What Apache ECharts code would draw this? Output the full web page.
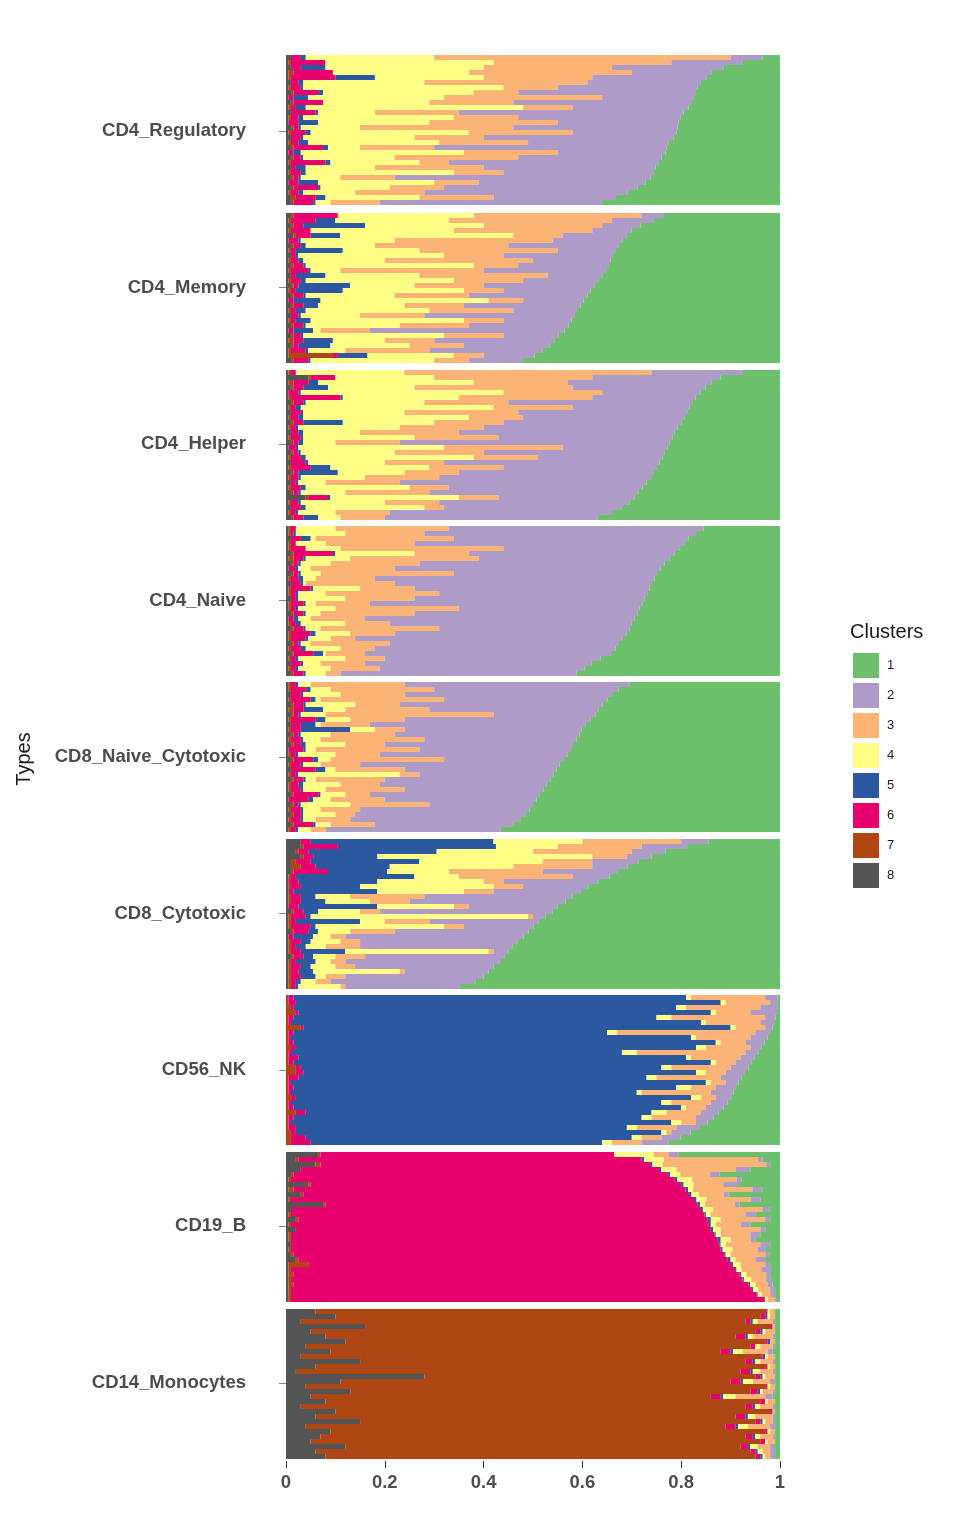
<!DOCTYPE html>
<html>
<head>
<meta charset="utf-8">
<title>Clusters per cell type</title>
<script src="https://cdn.jsdelivr.net/npm/echarts@6.0.0/dist/echarts.min.js"></script>
<style>
html, body { margin: 0; padding: 0; background: #fff; }
#chart { width: 960px; height: 1536px; }
</style>
</head>
<body>
<div id="chart"></div>
<script>
// cell types, top to bottom
var types = ['CD4_Regulatory', 'CD4_Memory', 'CD4_Helper', 'CD4_Naive', 'CD8_Naive_Cytotoxic',
  'CD8_Cytotoxic', 'CD56_NK', 'CD19_B', 'CD14_Monocytes'];
var clusters = ['1', '2', '3', '4', '5', '6', '7', '8'];
var clusterColors = ['#6dc06b', '#af9bc8', '#fbb476', '#ffff85', '#2c58a0', '#e8006e', '#af4714', '#555555'];
var xTicks = [0, 0.2, 0.4, 0.6, 0.8, 1];

// each row = one cell, shares of clusters 1..8 (top row first)
var cd4Regulatory = [
  [.035,.065,.60,.26,.01,.02,0,.01],[.075,.145,.36,.34,0,.07,.005,.005],[.115,.225,.26,.32,.05,.02,0,.01],
  [.138,.162,.33,.275,0,.08,.01,.005],[.148,.232,.22,.22,.08,.09,.005,.005],[.16,.23,.33,.245,.01,.015,0,.01],
  [.167,.283,.11,.405,.005,.02,.005,.005],[.17,.36,.09,.305,.01,.05,.005,.01],[.174,.186,.32,.275,.03,.01,0,.005],
  [.18,.36,.17,.215,0,.06,.005,.01],[.185,.235,.10,.44,.02,.01,.005,.005],[.195,.455,.17,.115,.005,.05,0,.01],
  [.202,.328,.13,.305,.01,.015,.005,.005],[.205,.245,.26,.225,.04,.02,0,.005],[.207,.333,.31,.12,.005,.01,.005,.01],
  [.21,.21,.21,.32,.01,.03,.005,.005],[.215,.385,.14,.225,.005,.02,0,.01],[.225,.285,.18,.265,.02,.015,.005,.005],
  [.23,.47,.15,.065,.01,.06,.005,.01],[.232,.218,.19,.33,.015,.01,0,.005],[.24,.29,.25,.185,.005,.015,.005,.01],
  [.245,.425,.06,.18,.01,.07,.005,.005],[.252,.348,.22,.14,.02,.01,0,.01],[.255,.305,.10,.30,.01,.02,.005,.005],
  [.262,.518,.11,.08,.005,.01,.005,.01],[.272,.338,.09,.235,.04,.02,0,.005],[.288,.392,.11,.14,.005,.05,.005,.01],
  [.308,.412,.14,.105,.01,.015,.005,.005],[.332,.248,.15,.19,.02,.04,.01,.01],[.36,.45,.10,.03,.005,.04,.005,.01]
];
var cd4Memory = [
  [.235,.045,.34,.275,0,.09,.005,.01],[.255,.085,.33,.23,.04,.05,.005,.005],[.282,.078,.24,.24,.125,.02,.005,.01],
  [.30,.08,.28,.29,0,.04,.005,.005],[.31,.13,.10,.35,.06,.03,.005,.015],[.319,.141,.32,.19,.005,.02,0,.005],
  [.326,.224,.27,.14,.01,.015,.005,.01],[.332,.118,.28,.155,.095,.01,.005,.005],[.338,.222,.12,.295,.005,.01,0,.01],
  [.343,.157,.30,.165,.01,.015,.005,.005],[.346,.184,.09,.34,.005,.02,.005,.01],[.352,.248,.29,.06,.005,.035,.005,.005],
  [.36,.11,.26,.19,.06,.01,0,.01],[.368,.152,.14,.30,.01,.02,.005,.005],[.376,.224,.14,.13,.105,.01,.005,.01],
  [.384,.176,.08,.245,.095,.01,.005,.005],[.39,.24,.15,.18,.005,.02,.005,.01],[.398,.122,.07,.34,.055,.01,0,.005],
  [.404,.236,.12,.175,.03,.02,.005,.01],[.411,.129,.17,.25,.02,.01,.005,.005],[.415,.305,.13,.12,.005,.015,0,.01],
  [.422,.138,.08,.31,.03,.01,.005,.005],[.428,.202,.14,.19,.005,.02,.005,.01],[.436,.394,.10,.015,.04,.01,0,.005],
  [.448,.112,.12,.285,.005,.015,.005,.01],[.457,.243,.10,.105,.06,.02,.01,.005],[.467,.173,.11,.16,.065,.01,.005,.01],
  [.48,.23,.17,.075,.005,.03,.005,.005],[.497,.103,.06,.175,.06,.01,.09,.005],[.522,.108,.07,.25,.005,.03,.005,.01]
];
var cd4Helper = [
  [.075,.185,.50,.22,0,.01,.005,.005],[.12,.26,.32,.20,0,.05,.005,.045],[.138,.292,.19,.315,.02,.03,.01,.005],
  [.151,.269,.32,.175,.05,.02,.005,.01],[.161,.199,.20,.41,.005,.02,0,.005],[.171,.209,.27,.235,.005,.10,.005,.005],
  [.178,.372,.17,.24,.005,.02,.005,.01],[.183,.237,.16,.39,.01,.01,.005,.005],[.188,.342,.23,.205,.005,.02,0,.01],
  [.194,.326,.11,.335,.01,.015,.005,.005],[.20,.36,.14,.185,.08,.02,.005,.01],[.207,.393,.17,.205,.005,.01,.005,.005],
  [.214,.436,.20,.115,.01,.015,0,.01],[.218,.352,.17,.225,.005,.02,.005,.005],[.223,.547,.13,.065,.01,.01,.005,.01],
  [.228,.212,.24,.295,.005,.015,0,.005],[.233,.367,.18,.19,.005,.01,.005,.01],[.238,.252,.13,.34,.01,.02,.005,.005],
  [.244,.436,.12,.155,.005,.03,0,.01],[.249,.311,.15,.20,.04,.04,.005,.005],[.255,.395,.11,.135,.08,.01,.005,.01],
  [.261,.429,.15,.13,.005,.015,.005,.005],[.27,.50,.15,.055,.005,.01,0,.01],[.278,.392,.08,.21,.01,.02,.005,.005],
  [.287,.423,.17,.09,.005,.01,.005,.01],[.295,.275,.08,.26,.005,.04,.005,.04],[.305,.385,.11,.17,.005,.015,.005,.005],
  [.32,.36,.04,.24,.01,.02,0,.01],[.34,.45,.11,.075,.005,.01,.005,.005],[.37,.43,.09,.045,.03,.02,.005,.01]
];
var cd4Naive = [
  [.155,.515,.23,.08,0,.01,.005,.005],[.17,.55,.16,.10,.005,.005,.005,.005],[.185,.475,.28,.01,.02,.02,0,.01],
  [.194,.546,.18,.06,0,.01,.005,.005],[.204,.356,.33,.07,0,.03,.005,.005],[.214,.416,.11,.16,.005,.08,.005,.01],
  [.224,.386,.26,.09,.005,.02,.01,.005],[.234,.496,.18,.06,.005,.01,.005,.01],[.242,.538,.17,.025,.005,.015,0,.005],
  [.249,.411,.27,.04,.005,.01,.005,.01],[.254,.566,.12,.025,.01,.015,.005,.005],[.259,.521,.18,.005,.005,.02,0,.01],
  [.264,.476,.11,.095,.005,.04,.005,.005],[.269,.421,.23,.055,.005,.01,.005,.005],[.274,.466,.14,.095,.005,.01,0,.01],
  [.279,.551,.11,.02,.005,.025,.005,.005],[.284,.366,.25,.075,.005,.01,.005,.005],[.289,.451,.19,.03,.005,.02,.005,.01],
  [.294,.546,.11,.025,.01,.01,0,.005],[.30,.49,.09,.09,.01,.01,.005,.005],[.304,.386,.24,.03,.005,.02,.005,.01],
  [.31,.47,.09,.07,.01,.04,.005,.005],[.318,.542,.05,.045,.005,.03,.005,.005],[.326,.464,.16,.02,.005,.01,.005,.01],
  [.333,.487,.07,.07,.01,.02,.005,.005],[.342,.498,.08,.005,.02,.04,.005,.01],[.363,.437,.08,.095,.005,.01,.005,.005],
  [.381,.459,.09,.035,.005,.02,0,.01],[.396,.414,.10,.065,.005,.01,.005,.005],[.412,.478,.03,.04,.005,.02,.005,.01]
];
var cd8NaiveCytotoxic = [
  [.305,.455,.19,.025,.005,.01,.005,.005],[.327,.373,.21,.04,.01,.03,.005,.005],[.34,.42,.13,.075,.005,.02,0,.01],
  [.349,.331,.25,.01,.01,.04,.005,.005],[.359,.411,.09,.10,.005,.02,.005,.01],[.368,.342,.17,.045,.04,.02,.01,.005],
  [.374,.206,.34,.05,.005,.01,.005,.01],[.383,.377,.11,.05,.02,.05,.005,.005],[.393,.437,.10,.01,.03,.02,0,.01],
  [.402,.358,.06,.05,.10,.02,.005,.005],[.406,.374,.13,.06,.005,.01,.005,.01],[.412,.308,.21,.035,.005,.02,.005,.005],
  [.419,.381,.08,.08,.01,.015,.005,.01],[.423,.307,.21,.02,.005,.03,0,.005],[.43,.38,.09,.075,.005,.01,.005,.005],
  [.439,.241,.23,.025,.01,.04,.005,.01],[.446,.404,.08,.035,.005,.02,.005,.005],[.452,.308,.14,.02,.02,.05,0,.01],
  [.459,.271,.04,.205,.005,.01,.005,.005],[.465,.335,.14,.02,.005,.02,.005,.01],[.472,.338,.08,.075,.01,.015,.005,.005],
  [.479,.281,.16,.045,.005,.02,.005,.005],[.486,.344,.05,.05,.005,.05,.005,.01],[.493,.307,.11,.035,.01,.04,0,.005],
  [.50,.21,.16,.10,.005,.01,.005,.01],[.507,.343,.08,.035,.005,.02,.005,.005],[.516,.344,.04,.065,.005,.015,.005,.01],
  [.526,.344,.07,.025,.005,.02,.005,.005],[.54,.28,.09,.03,.005,.04,.005,.01],[.565,.355,.03,.025,.005,.01,.005,.005]
];
var cd8Cytotoxic = [
  [.145,.055,.20,.18,.37,.02,0,.03],[.188,.092,.17,.125,.32,.07,.005,.03],[.232,.068,.20,.195,.26,.02,.005,.02],
  [.26,.05,.07,.435,.13,.02,.005,.03],[.287,.093,.10,.25,.22,.03,.01,.01],[.308,.072,.16,.25,.15,.03,.02,.01],
  [.328,.152,.19,.125,.12,.07,.005,.01],[.345,.075,.23,.09,.24,.01,.005,.005],[.368,.192,.04,.215,.16,.02,0,.005],
  [.388,.132,.06,.27,.12,.02,.005,.005],[.403,.177,.06,.175,.17,.01,0,.005],[.42,.30,.15,.07,.03,.02,.005,.005],
  [.434,.316,.08,.09,.05,.02,.005,.005],[.45,.18,.03,.155,.16,.02,0,.005],[.461,.349,.04,.085,.03,.02,.005,.01],
  [.475,.025,.01,.44,.01,.03,.005,.005],[.488,.222,.09,.05,.13,.01,.005,.005],[.499,.141,.04,.26,.01,.04,.005,.005],
  [.509,.271,.09,.065,.02,.03,.005,.01],[.519,.361,.03,.035,.04,.01,0,.005],[.532,.318,.04,.06,.02,.02,.005,.005],
  [.542,.308,.07,.04,.02,.01,.005,.005],[.55,.03,.01,.29,.09,.02,.005,.005],[.557,.283,.06,.045,.02,.02,.005,.01],
  [.567,.313,.03,.03,.04,.01,.005,.005],[.58,.28,.04,.05,.02,.02,.005,.005],[.59,.17,.01,.175,.03,.015,.005,.005],
  [.60,.28,.04,.02,.03,.02,.005,.005],[.617,.293,.03,.03,.01,.01,.005,.005],[.648,.232,.01,.085,.005,.01,.005,.005]
];
var cd56NK = [
  [.005,.025,.15,.01,.795,.01,.005,0],[.004,.016,.09,.01,.86,.015,.005,0],[.005,.035,.15,.02,.775,.005,.01,0],
  [.006,.054,.07,.01,.835,.005,.02,0],[.009,.021,.19,.03,.735,.01,.005,0],[.012,.028,.11,.01,.83,.005,.005,0],
  [.015,.015,.06,.01,.865,.005,.03,0],[.02,.03,.28,.02,.635,.01,.005,0],[.025,.035,.11,.01,.81,.005,.005,0],
  [.031,.039,.05,.01,.855,.01,.005,0],[.037,.023,.09,.02,.81,.01,.01,0],[.044,.026,.22,.03,.67,.005,.005,0],
  [.051,.029,.10,.01,.785,.02,.005,0],[.057,.033,.04,.01,.845,.01,.005,0],[.064,.036,.12,.02,.73,.01,.02,0],
  [.071,.039,.04,.02,.795,.015,.02,0],[.078,.042,.13,.02,.705,.02,.005,0],[.084,.026,.03,.01,.84,.005,.005,0],
  [.089,.041,.05,.03,.775,.01,.005,0],[.094,.046,.14,.01,.70,.005,.005,0],[.099,.031,.03,.02,.80,.01,.01,0],
  [.106,.034,.08,.02,.75,.005,.005,0],[.114,.036,.04,.01,.785,.01,.005,0],[.124,.036,.07,.03,.70,.02,.02,0],
  [.134,.036,.09,.02,.705,.01,.005,0],[.147,.023,.03,.02,.77,.005,.005,0],[.162,.048,.08,.02,.67,.015,.005,0],
  [.181,.039,.01,.01,.74,.01,.01,0],[.201,.039,.04,.02,.66,.03,.01,0],[.225,.055,.06,.02,.59,.04,.01,0]
];
var cd19B = [
  [.206,.02,.03,.08,0,.594,.005,.065],[.035,.01,.19,.04,.005,.695,.005,.02],[.02,.008,.21,.02,.005,.667,.01,.06],
  [.06,.03,.12,.03,.005,.725,0,.03],[.122,.02,.06,.02,.005,.758,.005,.01],[.078,.01,.09,.03,.005,.777,.005,.005],
  [.085,.03,.06,.02,.005,.75,.005,.045],[.036,.02,.12,.01,.005,.794,.01,.005],[.104,.01,.05,.015,.005,.781,.005,.03],
  [.039,.02,.09,.02,.005,.816,.005,.005],[.082,.01,.06,.01,.005,.753,.005,.075],[.02,.016,.10,.02,.004,.83,0,.01],
  [.05,.02,.07,.01,.003,.837,.005,.005],[.02,.01,.09,.02,.007,.828,.005,.02],[.06,.02,.05,.01,.004,.846,.005,.005],
  [.03,.01,.08,.015,.005,.84,0,.02],[.04,.02,.06,.01,.003,.857,.005,.005],[.05,.01,.04,.02,.007,.863,.005,.005],
  [.02,.02,.07,.01,.003,.867,0,.01],[.03,.016,.05,.02,.004,.87,.005,.005],[.02,.01,.07,.01,.003,.872,.005,.01],
  [.03,.02,.04,.01,.006,.869,.005,.02],[.02,.01,.05,.015,.004,.856,.04,.005],[.02,.018,.04,.01,.003,.899,.005,.005],
  [.02,.008,.04,.01,.004,.903,.01,.005],[.018,.01,.03,.015,.003,.914,.005,.005],[.015,.01,.025,.01,.004,.921,.01,.005],
  [.01,.01,.024,.01,.003,.933,.005,.005],[.01,.01,.017,.008,.002,.943,.005,.005],[.006,.004,.015,.005,.002,.958,.005,.005]
];
var cd14Monocytes = [
  [.01,0,.01,.005,0,.005,.91,.06],[.01,0,.01,.005,.005,.01,.86,.10],[.01,.005,.03,.01,.005,.01,.90,.03],
  [.01,0,.005,0,0,.005,.82,.16],[.01,0,.02,.005,.005,.01,.90,.05],[.01,.005,.04,.01,.005,.02,.83,.08],
  [.01,0,.01,0,.005,.005,.85,.12],[.01,.005,.025,.01,0,.01,.90,.04],[.015,.01,.05,.02,.005,.02,.79,.09],
  [.01,0,.015,.005,.005,.005,.93,.03],[.01,.005,.025,.01,.005,.015,.78,.15],[.01,0,.01,.005,0,.005,.91,.06],
  [.01,.005,.025,.015,.005,.02,.90,.02],[.01,0,.02,.005,.005,.01,.67,.28],[.01,.01,.035,.02,.005,.02,.79,.11],
  [.01,0,.01,.005,0,.005,.93,.04],[.01,.005,.02,.005,.005,.015,.81,.13],[.015,.015,.06,.025,.005,.02,.81,.05],
  [.01,0,.015,.005,0,.01,.88,.08],[.01,.005,.025,.01,.005,.015,.90,.03],[.01,0,.005,0,0,.005,.88,.10],
  [.01,.005,.035,.015,.005,.02,.85,.06],[.01,.005,.015,.005,.005,.01,.80,.15],[.01,.01,.045,.02,.005,.02,.85,.04],
  [.01,0,.01,.005,0,.005,.88,.09],[.01,.005,.025,.01,.005,.015,.86,.07],[.01,0,.015,.005,0,.01,.91,.05],
  [.01,.01,.025,.015,.005,.015,.80,.12],[.01,.01,.015,.01,.005,.01,.88,.06],[.01,.01,.01,.005,.005,.01,.87,.08]
];
var panels = [cd4Regulatory, cd4Memory, cd4Helper, cd4Naive, cd8NaiveCytotoxic,
  cd8Cytotoxic, cd56NK, cd19B, cd14Monocytes];

// layout (pixels); panel height = 5 px per row so rows sit on whole pixels
var plotLeft = 286, plotWidth = 494, plotTop = 53, plotBottom = 1461;
var panelTop = [55, 213, 370, 526, 682, 839, 995, 1152, 1309];
var rowPx = 5;
var font = '"Liberation Sans", Arial, Helvetica, sans-serif';

var chart = echarts.init(document.getElementById('chart'));
var grids = [], xAxes = [], yAxes = [], series = [];

panels.forEach(function (rows, k) {
  grids.push({ left: plotLeft, width: plotWidth, top: panelTop[k], height: rows.length * rowPx });
  xAxes.push({ gridIndex: k, type: 'value', min: 0, max: 1, show: false });
  yAxes.push({ gridIndex: k, type: 'category', inverse: true, show: false,
    data: rows.map(function (r, i) { return i; }) });
  // stacked left to right: cluster 8 first, cluster 1 last
  for (var c = clusters.length - 1; c >= 0; c--) {
    series.push({
      type: 'bar', name: clusters[c], xAxisIndex: k, yAxisIndex: k, stack: 'p' + k,
      barCategoryGap: '0%', silent: true, animation: false,
      itemStyle: { color: clusterColors[c], borderWidth: 0 },
      data: rows.map(function (r) { return r[c]; })
    });
  }
});

// shared axes for the type labels and the 0..1 scale
var g = panels.length;
grids.push({ left: plotLeft, width: plotWidth, top: plotTop, height: plotBottom - plotTop });
xAxes.push({
  gridIndex: g, type: 'value', min: 0, max: 1, interval: 0.2,
  axisLine: { show: false }, splitLine: { show: false },
  axisTick: { show: true, length: 7, lineStyle: { color: '#333', width: 1 } },
  axisLabel: { margin: 12, fontSize: 18.5, fontWeight: 'bold', color: '#4d4d4d', fontFamily: font,
    formatter: function (v) { return xTicks.indexOf(v) >= 0 ? String(v) : ''; } }
});
yAxes.push({
  gridIndex: g, type: 'category', inverse: true, data: types, offset: 26,
  axisLine: { show: false }, splitLine: { show: false },
  axisTick: { show: true, alignWithLabel: true, length: 7, lineStyle: { color: '#888', width: 1 } },
  axisLabel: { margin: 14, fontSize: 18.5, fontWeight: 'bold', color: '#4d4d4d', fontFamily: font }
});

chart.setOption({
  backgroundColor: '#fff',
  animation: false,
  textStyle: { fontFamily: font },
  grid: grids,
  xAxis: xAxes,
  yAxis: yAxes,
  legend: {
    data: clusters, orient: 'vertical', left: 848, top: 648,
    itemWidth: 26, itemHeight: 25, itemGap: 5, icon: 'rect', selectedMode: false,
    textStyle: { fontSize: 13, color: '#1a1a1a', fontFamily: font, padding: [0, 0, 0, 3] }
  },
  graphic: [
    { type: 'text', x: 850, y: 632, silent: true,
      style: { text: 'Clusters', fontSize: 20, fill: '#1a1a1a', fontFamily: font, align: 'left', verticalAlign: 'middle' } },
    { type: 'text', x: 24, y: 759, rotation: Math.PI / 2, silent: true,
      style: { text: 'Types', fontSize: 20, fill: '#1a1a1a', fontFamily: font, align: 'center', verticalAlign: 'middle' } }
  ],
  series: series
});
</script>
</body>
</html>
